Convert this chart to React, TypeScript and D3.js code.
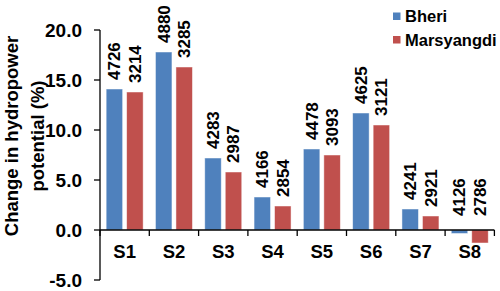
import React from 'react';
import * as d3 from 'd3';

const categories = ['S1', 'S2', 'S3', 'S4', 'S5', 'S6', 'S7', 'S8'];
const seriesNames = ['Bheri', 'Marsyangdi'];
const bheri = [14.1, 17.8, 7.2, 3.3, 8.1, 11.7, 2.1, -0.35];
const marsyangdi = [13.8, 16.3, 5.8, 2.4, 7.5, 10.5, 1.4, -1.3];
const bheriLabels = ['4726', '4880', '4283', '4166', '4478', '4625', '4241', '4126'];
const marsyangdiLabels = ['3214', '3285', '2987', '2854', '3093', '3121', '2921', '2786'];
const yTicks = [-5, 0, 5, 10, 15, 20];
const colors = ['#4F81BD', '#C0504D'];

export default function App() {
  const width = 500;
  const height = 291;
  const font = 'Arial, "Liberation Sans", sans-serif';

  const x = d3.scaleBand().domain(categories).range([100, 494.4]).paddingInner(0).paddingOuter(0);
  const xSub = d3.scaleBand().domain(seriesNames).range([0, x.bandwidth()]).paddingInner(0.195).paddingOuter(0.3);
  const y = d3.scaleLinear().domain([-5, 20]).range([280, 30]);

  const series = [
    { name: seriesNames[0], values: bheri, labels: bheriLabels, color: colors[0] },
    { name: seriesNames[1], values: marsyangdi, labels: marsyangdiLabels, color: colors[1] },
  ];

  const boundaries = d3.range(categories.length + 1).map(i => 100 + i * x.step());

  return (
    <svg width={width} height={height} style={{ position: 'absolute', left: 0, top: 0 }} fontFamily={font}>
      <rect width={width} height={height} fill="#fff" />
      {/* bars */}
      {series.map(s =>
        categories.map((c, i) => {
          const v = s.values[i];
          const bx = (x(c) as number) + (xSub(s.name) as number);
          return (
            <rect
              key={s.name + c}
              x={bx}
              y={y(Math.max(v, 0))}
              width={xSub.bandwidth()}
              height={Math.abs(y(v) - y(0))}
              fill={s.color}
              stroke="#ffffff"
              strokeOpacity={0.6}
              strokeWidth={0.8}
            />
          );
        })
      )}
      {/* data labels */}
      {series.map(s =>
        categories.map((c, i) => {
          const v = s.values[i];
          const cx = (x(c) as number) + (xSub(s.name) as number) + xSub.bandwidth() / 2;
          const ly = v >= 0 ? y(v) - 9 : y(0) - 14;
          return (
            <text
              key={'l' + s.name + c}
              transform={`translate(${cx},${ly}) rotate(-90)`}
              dy="0.35em"
              fontSize={17}
              fontWeight="bold"
              fill="#000"
            >
              {s.labels[i]}
            </text>
          );
        })
      )}
      {/* y axis */}
      <line x1={100} x2={100} y1={y(20)} y2={y(-5)} stroke="#000" strokeWidth={1.3} />
      {yTicks.map(t => (
        <g key={t}>
          <line x1={94} x2={100} y1={y(t)} y2={y(t)} stroke="#000" strokeWidth={1.3} />
          <text x={82} y={y(t)} dy="0.36em" textAnchor="end" fontSize={19} fontWeight="bold">
            {t.toFixed(1)}
          </text>
        </g>
      ))}
      {/* x axis */}
      <line x1={100} x2={494.4} y1={y(0)} y2={y(0)} stroke="#000" strokeWidth={1.3} />
      {boundaries.map((b, i) => (
        <line key={i} x1={b} x2={b} y1={y(0)} y2={y(0) + 6} stroke="#000" strokeWidth={1.3} />
      ))}
      {categories.map(c => (
        <text
          key={c}
          x={(x(c) as number) + x.bandwidth() / 2}
          y={258}
          textAnchor="middle"
          fontSize={18.5}
          fontWeight="bold"
        >
          {c}
        </text>
      ))}
      {/* y title */}
      <text transform="translate(12,136) rotate(-90)" textAnchor="middle" fontSize={18.5} fontWeight="bold">
        <tspan x={0} dy="0.35em">Change in hydropower</tspan>
        <tspan x={0} dy="1.4em">potential (%)</tspan>
      </text>
      {/* legend */}
      {series.map((s, i) => (
        <g key={'lg' + s.name} transform={`translate(393,${12.5 + i * 23.5})`}>
          <rect width={7.5} height={7.5} fill={s.color} />
          <text x={12} y={3.75} dy="0.36em" fontSize={16.5} fontWeight="bold">
            {s.name}
          </text>
        </g>
      ))}
    </svg>
  );
}
